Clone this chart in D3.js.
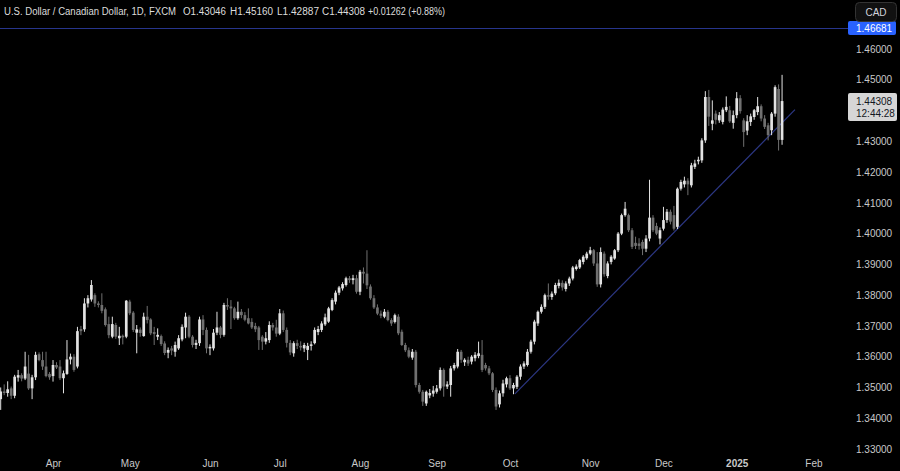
<!DOCTYPE html>
<html><head><meta charset="utf-8">
<script src="https://cdn.jsdelivr.net/npm/d3@7"></script>
<style>html,body{margin:0;padding:0;background:#000;}svg{display:block}</style>
</head><body><svg id="chart" width="900" height="471"></svg>
<script>
// ---------------- DATA ----------------
const startDate = "2024-03-11";
const holidays = ["2024-12-25", "2025-01-01"];
const open = [
1.3462,1.3487,1.3482,1.3497,1.3473,1.3532,1.3540,1.3529,1.3545,1.3497,
1.3533,1.3608,1.3589,1.3568,1.3544,1.3537,1.3573,1.3568,1.3530,1.3544,
1.3591,1.3600,1.3568,1.3690,1.3689,1.3773,1.3786,1.3800,1.3773,1.3768,
1.3754,1.3706,1.3665,1.3703,1.3660,1.3668,1.3665,1.3779,1.3743,1.3678,
1.3688,1.3667,1.3730,1.3721,1.3680,1.3665,1.3667,1.3643,1.3613,1.3627,
1.3616,1.3627,1.3656,1.3695,1.3730,1.3665,1.3638,1.3644,1.3721,1.3687,
1.3627,1.3627,1.3678,1.3695,1.3671,1.3768,1.3763,1.3757,1.3725,1.3746,
1.3735,1.3725,1.3713,1.3700,1.3695,1.3665,1.3649,1.3654,1.3703,1.3695,
1.3675,1.3741,1.3687,1.3645,1.3611,1.3644,1.3635,1.3627,1.3622,1.3635,
1.3644,1.3680,1.3687,1.3705,1.3714,1.3752,1.3779,1.3808,1.3822,1.3833,
1.3855,1.3849,1.3855,1.3811,1.3876,1.3870,1.3828,1.3790,1.3760,1.3740,
1.3730,1.3746,1.3719,1.3713,1.3730,1.3681,1.3638,1.3621,1.3597,1.3616,
1.3508,1.3486,1.3448,1.3474,1.3480,1.3486,1.3497,1.3557,1.3503,1.3508,
1.3562,1.3568,1.3616,1.3582,1.3590,1.3584,1.3595,1.3602,1.3606,1.3573,
1.3562,1.3546,1.3492,1.3445,1.3481,1.3510,1.3530,1.3497,1.3502,1.3535,
1.3568,1.3573,1.3616,1.3649,1.3708,1.3746,1.3762,1.3800,1.3794,1.3806,
1.3830,1.3840,1.3820,1.3838,1.3854,1.3885,1.3890,1.3908,1.3920,1.3935,
1.3946,1.3903,1.3835,1.3935,1.3862,1.3908,1.3919,1.3946,1.4000,1.4060,
1.4060,1.4011,1.3970,1.3968,1.3973,1.3951,1.3984,1.4052,1.4025,1.3984,
1.4016,1.4044,1.4071,1.4060,1.4022,1.4146,1.4160,1.4172,1.4157,1.4217,
1.4235,1.4238,1.4303,1.4444,1.4357,1.4390,1.4368,1.4363,1.4401,1.4401,
1.4360,1.4385,1.4440,1.4368,1.4335,1.4363,1.4379,1.4395,1.4414,1.4374,
1.4352,1.4336,1.4390,1.4470,1.43046];
const high = [
1.3500,1.3510,1.3520,1.3503,1.3541,1.3557,1.3546,1.3616,1.3606,1.3541,
1.3616,1.3614,1.3616,1.3616,1.3550,1.3589,1.3582,1.3589,1.3555,1.3654,
1.3610,1.3608,1.3697,1.3700,1.3790,1.3800,1.3849,1.3806,1.3780,1.3806,
1.3760,1.3730,1.3730,1.3710,1.3697,1.3672,1.3784,1.3785,1.3748,1.3703,
1.3695,1.3743,1.3765,1.3725,1.3697,1.3692,1.3672,1.3650,1.3630,1.3635,
1.3649,1.3670,1.3705,1.3743,1.3735,1.3670,1.3655,1.3730,1.3735,1.3695,
1.3640,1.3690,1.3746,1.3700,1.3775,1.3790,1.3784,1.3762,1.3779,1.3755,
1.3745,1.3757,1.3725,1.3710,1.3700,1.3670,1.3680,1.3715,1.3710,1.3720,
1.3755,1.3750,1.3695,1.3654,1.3650,1.3655,1.3650,1.3645,1.3645,1.3650,
1.3695,1.3700,1.3715,1.3740,1.3762,1.3790,1.3815,1.3830,1.3842,1.3860,
1.3862,1.3866,1.3866,1.3882,1.3890,1.3946,1.3835,1.3800,1.3770,1.3750,
1.3755,1.3752,1.3725,1.3740,1.3738,1.3688,1.3645,1.3630,1.3625,1.3622,
1.3515,1.3492,1.3490,1.3495,1.3505,1.3508,1.3565,1.3562,1.3520,1.3570,
1.3580,1.3625,1.3622,1.3595,1.3600,1.3605,1.3615,1.3649,1.3654,1.3580,
1.3570,1.3550,1.3500,1.3490,1.3525,1.3535,1.3540,1.3515,1.3540,1.3575,
1.3585,1.3625,1.3655,1.3720,1.3750,1.3770,1.3805,1.3838,1.3812,1.3840,
1.3851,1.3848,1.3845,1.3860,1.3895,1.3900,1.3918,1.3930,1.3941,1.3957,
1.3950,1.3940,1.3955,1.3942,1.3910,1.3930,1.3950,1.4005,1.4065,1.4103,
1.4065,1.4018,1.3990,1.3985,1.3980,1.3995,1.4175,1.4060,1.4035,1.4020,
1.4087,1.4080,1.4078,1.4090,1.4150,1.4175,1.4185,1.4180,1.4230,1.4240,
1.4250,1.4310,1.4463,1.4467,1.4433,1.4400,1.4395,1.4410,1.4446,1.4415,
1.4400,1.4460,1.4450,1.4375,1.4385,1.4390,1.4405,1.4444,1.4420,1.4385,
1.4360,1.4395,1.4482,1.4485,1.45160];
const low = [
1.3427,1.3475,1.3470,1.3462,1.3465,1.3519,1.3520,1.3524,1.3492,1.3462,
1.3524,1.3585,1.3557,1.3533,1.3525,1.3519,1.3560,1.3524,1.3481,1.3541,
1.3575,1.3551,1.3562,1.3670,1.3681,1.3760,1.3779,1.3762,1.3760,1.3741,
1.3698,1.3660,1.3660,1.3658,1.3638,1.3640,1.3660,1.3735,1.3680,1.3611,
1.3665,1.3665,1.3708,1.3670,1.3638,1.3654,1.3635,1.3605,1.3595,1.3605,
1.3600,1.3622,1.3650,1.3660,1.3660,1.3630,1.3625,1.3635,1.3670,1.3611,
1.3605,1.3620,1.3670,1.3660,1.3665,1.3752,1.3690,1.3720,1.3720,1.3725,
1.3715,1.3705,1.3690,1.3680,1.3622,1.3622,1.3640,1.3645,1.3685,1.3665,
1.3670,1.3680,1.3630,1.3605,1.3600,1.3625,1.3620,1.3615,1.3589,1.3620,
1.3640,1.3670,1.3680,1.3700,1.3710,1.3748,1.3770,1.3800,1.3815,1.3828,
1.3840,1.3835,1.3805,1.3800,1.3838,1.3820,1.3785,1.3755,1.3735,1.3725,
1.3725,1.3715,1.3700,1.3708,1.3670,1.3635,1.3615,1.3595,1.3590,1.3500,
1.3480,1.3440,1.3440,1.3465,1.3470,1.3480,1.3490,1.3470,1.3495,1.3470,
1.3555,1.3562,1.3580,1.3570,1.3570,1.3575,1.3585,1.3595,1.3550,1.3555,
1.3540,1.3485,1.3427,1.3435,1.3470,1.3500,1.3492,1.3478,1.3495,1.3525,
1.3560,1.3568,1.3610,1.3640,1.3700,1.3740,1.3755,1.3785,1.3785,1.3800,
1.3822,1.3815,1.3812,1.3830,1.3848,1.3880,1.3885,1.3900,1.3915,1.3930,
1.3895,1.3827,1.3825,1.3860,1.3855,1.3900,1.3915,1.3940,1.3995,1.4055,
1.4005,1.3950,1.3950,1.3948,1.3930,1.3940,1.3975,1.4005,1.3995,1.3965,
1.4010,1.4035,1.4030,1.4010,1.4015,1.4140,1.4150,1.4125,1.4150,1.4210,
1.4225,1.4230,1.4295,1.4350,1.4336,1.4355,1.4360,1.4355,1.4395,1.4360,
1.4341,1.4375,1.4390,1.4282,1.4320,1.4350,1.4370,1.4385,1.4365,1.4340,
1.4303,1.4320,1.4380,1.4270,1.42887];
const close = [
1.3487,1.3482,1.3494,1.3473,1.3535,1.3540,1.3529,1.3568,1.3497,1.3533,
1.3606,1.3589,1.3568,1.3537,1.3533,1.3573,1.3565,1.3530,1.3546,1.3591,
1.3600,1.3557,1.3683,1.3683,1.3773,1.3790,1.3833,1.3773,1.3768,1.3749,
1.3703,1.3670,1.3706,1.3665,1.3668,1.3663,1.3782,1.3741,1.3687,1.3689,
1.3677,1.3730,1.3719,1.3676,1.3674,1.3671,1.3641,1.3612,1.3622,1.3620,
1.3638,1.3660,1.3697,1.3730,1.3665,1.3638,1.3645,1.3721,1.3687,1.3627,
1.3632,1.3678,1.3695,1.3671,1.3768,1.3763,1.3757,1.3725,1.3746,1.3735,
1.3720,1.3708,1.3695,1.3689,1.3654,1.3649,1.3660,1.3703,1.3695,1.3675,
1.3741,1.3687,1.3645,1.3614,1.3644,1.3635,1.3630,1.3638,1.3635,1.3640,
1.3687,1.3690,1.3708,1.3728,1.3757,1.3784,1.3808,1.3825,1.3836,1.3855,
1.3849,1.3855,1.3811,1.3876,1.3870,1.3832,1.3790,1.3760,1.3740,1.3733,
1.3746,1.3719,1.3708,1.3735,1.3676,1.3638,1.3621,1.3600,1.3616,1.3508,
1.3486,1.3454,1.3486,1.3482,1.3490,1.3497,1.3557,1.3503,1.3510,1.3562,
1.3573,1.3616,1.3590,1.3590,1.3578,1.3600,1.3606,1.3611,1.3557,1.3562,
1.3546,1.3492,1.3438,1.3481,1.3513,1.3530,1.3497,1.3508,1.3535,1.3568,
1.3578,1.3616,1.3649,1.3714,1.3746,1.3762,1.3800,1.3795,1.3805,1.3833,
1.3840,1.3825,1.3838,1.3854,1.3890,1.3893,1.3914,1.3925,1.3935,1.3946,
1.3903,1.3835,1.3940,1.3868,1.3903,1.3925,1.3946,1.4000,1.4060,1.4081,
1.4011,1.3957,1.3960,1.3960,1.3951,1.3984,1.4052,1.4011,1.4000,1.4011,
1.4044,1.4071,1.4039,1.4016,1.4146,1.4168,1.4172,1.4160,1.4222,1.4228,
1.4240,1.4303,1.4444,1.4380,1.4368,1.4370,1.4385,1.4403,1.4412,1.4365,
1.4385,1.4440,1.4398,1.4330,1.4365,1.4381,1.4401,1.4414,1.4374,1.4347,
1.4320,1.4390,1.4476,1.43046,1.44308];

const priceTicks = [1.33,1.34,1.35,1.36,1.37,1.38,1.39,1.40,1.41,1.42,1.43,1.44,1.45,1.46];
const monthLabels = ["Apr","May","Jun","Jul","Aug","Sep","Oct","Nov","Dec","2025","Feb"];
const monthTickDates = ["2024-04-01","2024-05-01","2024-06-03","2024-07-01","2024-08-01","2024-09-02","2024-10-01","2024-11-01","2024-12-02","2025-01-02","2025-02-03"];
const levelPrice = 1.46681;
const trendBars = [147.4, 227.7];     // bar positions of the trend line ends
const trendPrices = [1.3479, 1.4403];
const titleParts = ["U.S. Dollar / Canadian Dollar, 1D, FXCM","O1.43046","H1.45160","L1.42887","C1.44308","+0.01262 (+0.88%)"];
const lastTime = "12:44:28";
const currency = "CAD";

// ---------------- LAYOUT ----------------
const W = 900, H = 471, plotRight = 848, plotBottom = 455;
const svg = d3.select("#chart");
svg.append("rect").attr("width", W).attr("height", H).attr("fill", "#000");

const dates = [];
const fmt = d3.utcFormat("%Y-%m-%d");
let dd = new Date(startDate + "T00:00:00Z");
while (dates.length < close.length + 15) {
  const wd = dd.getUTCDay(), s = fmt(dd);
  if (wd !== 0 && wd !== 6 && !holidays.includes(s)) dates.push(s);
  dd = new Date(dd.getTime() + 86400000);
}
const idxOf = s => dates.indexOf(s);

const x = d3.scaleLinear().domain([-0.2, 242.9]).range([0, plotRight]);
const y = d3.scaleLinear().domain([1.33, 1.46]).range([449, 49]);

const FONT = "'Liberation Sans', Arial, sans-serif";

svg.append("clipPath").attr("id", "plotclip").append("rect")
  .attr("x", 0).attr("y", 0).attr("width", plotRight).attr("height", plotBottom);
const plot = svg.append("g").attr("clip-path", "url(#plotclip)");

// level line
plot.append("line").attr("x1", 0).attr("x2", plotRight)
  .attr("y1", Math.round(y(levelPrice)) + 0.5).attr("y2", Math.round(y(levelPrice)) + 0.5)
  .attr("stroke", "#27358c").attr("stroke-width", 1);

// trend line
plot.append("line")
  .attr("x1", x(trendBars[0])).attr("y1", y(trendPrices[0]))
  .attr("x2", x(trendBars[1])).attr("y2", y(trendPrices[1]))
  .attr("stroke", "#2c3784").attr("stroke-width", 1.2);

const UP = "#e3e3e3", DOWN = "#707070";
const bars = d3.range(close.length).map(i => ({i, o: open[i], h: high[i], l: low[i], c: close[i]}));
const cg = plot.append("g");
cg.selectAll("line.wick").data(bars).join("line").attr("class", "wick")
  .attr("x1", d => x(d.i)).attr("x2", d => x(d.i))
  .attr("y1", d => y(d.h)).attr("y2", d => y(d.l))
  .attr("stroke", d => d.c >= d.o ? UP : DOWN).attr("stroke-width", 1);
const bw = 2.7;
cg.selectAll("rect.body").data(bars).join("rect").attr("class", "body")
  .attr("x", d => x(d.i) - bw / 2).attr("width", bw)
  .attr("y", d => y(Math.max(d.o, d.c)))
  .attr("height", d => Math.max(1, Math.abs(y(d.o) - y(d.c))))
  .attr("fill", d => d.c >= d.o ? UP : DOWN);

// last price position (labels hidden under its box, as on the reference)
const lastP = close[close.length - 1];
const lpy = y(lastP);
const boxTop = lpy - 8, boxBottom = lpy + 20;
const shownTicks = priceTicks.filter(t => y(t) + 6 < boxTop || y(t) - 6 > boxBottom);

// y axis
const yAxis = svg.append("g").attr("transform", `translate(${plotRight},0)`)
  .call(d3.axisRight(y).tickValues(shownTicks).tickSize(0).tickPadding(8).tickFormat(d3.format(".5f")));
yAxis.select(".domain").remove();
yAxis.selectAll("text").attr("fill", "#c9c9c9").style("font-family", FONT).style("font-size", "10px");

// x axis
const monthIdx = monthTickDates.map(idxOf);
const xAxis = svg.append("g").attr("transform", `translate(0,${plotBottom})`)
  .call(d3.axisBottom(x).tickValues(monthIdx).tickSize(0).tickPadding(5).tickFormat((d, k) => monthLabels[k]));
xAxis.select(".domain").remove();
xAxis.selectAll("text").attr("fill", "#c9c9c9").style("font-family", FONT).style("font-size", "10px")
  .style("font-weight", (d, k) => monthLabels[k] === "2025" ? "bold" : "normal");

// level label
const ly = y(levelPrice);
svg.append("rect").attr("x", plotRight).attr("y", ly - 7).attr("width", 48).attr("height", 14)
  .attr("rx", 2).attr("fill", "#2962ff");
svg.append("text").attr("x", plotRight + 8).attr("y", ly).attr("dy", "0.35em")
  .attr("fill", "#ffffff").style("font-family", FONT).style("font-size", "10px").text(d3.format(".5f")(levelPrice));

// last price label
svg.append("rect").attr("x", plotRight).attr("y", boxTop).attr("width", 49).attr("height", boxBottom - boxTop)
  .attr("rx", 2).attr("fill", "#d6d6d6");
svg.append("text").attr("x", plotRight + 8).attr("y", lpy).attr("dy", "0.35em")
  .attr("fill", "#131722").style("font-family", FONT).style("font-size", "10px").text(d3.format(".5f")(lastP));
svg.append("text").attr("x", plotRight + 8).attr("y", lpy + 12).attr("dy", "0.35em")
  .attr("fill", "#131722").style("font-family", FONT).style("font-size", "10px").text(lastTime);

// currency button
svg.append("rect").attr("x", 855.5).attr("y", 2.5).attr("width", 41).attr("height", 19).attr("rx", 4)
  .attr("fill", "#111111").attr("stroke", "#333333");
svg.append("text").attr("x", 876).attr("y", 12).attr("dy", "0.35em").attr("text-anchor", "middle")
  .attr("fill", "#d1d4dc").style("font-family", FONT).style("font-size", "10px").text(currency);

// title
const titleX = [4, 183, 230, 277, 322, 368];
const titleW = [172, 43, 43, 42, 43, 77];
svg.selectAll("text.title").data(titleParts).join("text").attr("class", "title")
  .attr("x", (d, k) => titleX[k]).attr("y", 11).attr("dy", "0.35em")
  .attr("textLength", (d, k) => titleW[k]).attr("lengthAdjust", "spacingAndGlyphs")
  .attr("fill", "#dcdcdc").style("font-family", FONT).style("font-size", "10px")
  .text(d => d);
</script></body></html>
